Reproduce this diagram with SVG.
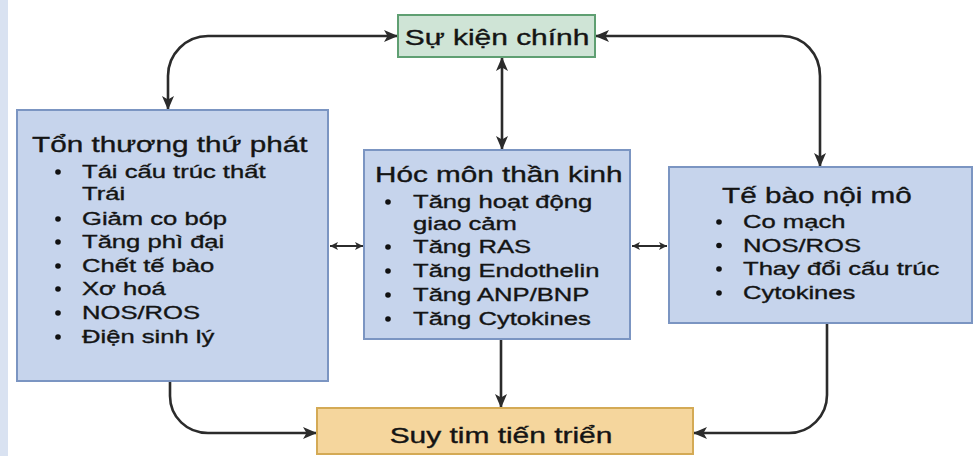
<svg xmlns="http://www.w3.org/2000/svg" width="974" height="456" viewBox="0 0 974 456">
  <style>
    .txt { font-family: "Liberation Sans", Arial, sans-serif; fill: #141414; stroke: #141414; stroke-width: 0.35px; }
    .head { font-size: 22px; }
    .item { font-size: 18.7px; }
    .blue { fill: #c6d4ec; stroke: #7b95c2; stroke-width: 2; }
    .green { fill: #cfe4d6; stroke: #5f9f72; stroke-width: 2; }
    .orange { fill: #f5d69d; stroke: #d4aa55; stroke-width: 2; }
    .dot { fill: #111; }
    .link { fill: none; stroke: #2b2b2b; stroke-width: 2.6; }
    .link-s { fill: none; stroke: #2b2b2b; stroke-width: 1.8; }
  </style>
  <defs>
    <marker id="arrow" markerUnits="userSpaceOnUse" markerWidth="14" markerHeight="12" refX="13" refY="6" orient="auto-start-reverse">
      <path d="M0,0 L14,6 L0,12 L3.5,6 z" fill="#2b2b2b"/>
    </marker>
    <marker id="arrow-s" markerUnits="userSpaceOnUse" markerWidth="8" markerHeight="8" refX="8" refY="4" orient="auto-start-reverse">
      <path d="M0,0 L8,4 L0,8 L2,4 z" fill="#2b2b2b"/>
    </marker>
  </defs>

  <!-- page margin strip -->
  <rect x="0" y="0" width="8" height="456" fill="#d9e2f1"/>
  <rect x="8" y="0" width="966" height="456" fill="#ffffff"/>

  <!-- connectors -->
  <g id="connectors">
    <path class="link" d="M397 36 H208 C186 36 168 54 168 76 V109" marker-start="url(#arrow)" marker-end="url(#arrow)"/>
    <path class="link" d="M596 36 H782 C804 36 820 54 820 76 V166" marker-start="url(#arrow)" marker-end="url(#arrow)"/>
    <path class="link" d="M502 58 V149" marker-start="url(#arrow)" marker-end="url(#arrow)"/>
    <path class="link-s" d="M330 246 H363" marker-start="url(#arrow-s)" marker-end="url(#arrow-s)"/>
    <path class="link-s" d="M632 246 H667" marker-start="url(#arrow-s)" marker-end="url(#arrow-s)"/>
    <path class="link" d="M501 340 V407" marker-end="url(#arrow)"/>
    <path class="link" d="M170 382 V396 C170 417 187 433 208 433 H316" marker-end="url(#arrow)"/>
    <path class="link" d="M827 324 V395 C827 416 810 433 789 433 H694" marker-end="url(#arrow)"/>
  </g>

  <!-- top event -->
  <g id="node-main-event">
    <rect class="green" x="398" y="15" width="197" height="42"/>
    <text class="txt head" text-anchor="middle" transform="translate(497 45) scale(1.36 1)">Sự kiện chính</text>
  </g>

  <!-- secondary damage -->
  <g id="node-secondary-damage">
    <rect class="blue" x="17" y="110" width="311" height="271"/>
    <text class="txt head" transform="translate(32 152) scale(1.35 1)">Tổn thương thứ phát</text>
    <circle class="dot" cx="58" cy="172" r="2.8"/>
    <text class="txt item" transform="translate(82 178) scale(1.37 1)">Tái cấu trúc thất</text>
    <text class="txt item" transform="translate(82 200) scale(1.37 1)">Trái</text>
    <circle class="dot" cx="58" cy="219" r="2.8"/>
    <text class="txt item" transform="translate(82 225) scale(1.37 1)">Giảm co bóp</text>
    <circle class="dot" cx="58" cy="242" r="2.8"/>
    <text class="txt item" transform="translate(82 248) scale(1.37 1)">Tăng phì đại</text>
    <circle class="dot" cx="58" cy="266" r="2.8"/>
    <text class="txt item" transform="translate(82 272) scale(1.37 1)">Chết tế bào</text>
    <circle class="dot" cx="58" cy="289" r="2.8"/>
    <text class="txt item" transform="translate(82 295) scale(1.37 1)">Xơ hoá</text>
    <circle class="dot" cx="58" cy="313" r="2.8"/>
    <text class="txt item" transform="translate(82 319) scale(1.37 1)">NOS/ROS</text>
    <circle class="dot" cx="58" cy="337" r="2.8"/>
    <text class="txt item" transform="translate(82 343) scale(1.37 1)">Điện sinh lý</text>
  </g>

  <!-- neurohormones -->
  <g id="node-neurohormones">
    <rect class="blue" x="364" y="150" width="266" height="189"/>
    <text class="txt head" transform="translate(375 182) scale(1.35 1)">Hóc môn thần kinh</text>
    <circle class="dot" cx="388" cy="202" r="2.8"/>
    <text class="txt item" transform="translate(413 208) scale(1.37 1)">Tăng hoạt động</text>
    <text class="txt item" transform="translate(413 230) scale(1.37 1)">giao cảm</text>
    <circle class="dot" cx="388" cy="247" r="2.8"/>
    <text class="txt item" transform="translate(413 253) scale(1.37 1)">Tăng RAS</text>
    <circle class="dot" cx="388" cy="271" r="2.8"/>
    <text class="txt item" transform="translate(413 277) scale(1.37 1)">Tăng Endothelin</text>
    <circle class="dot" cx="388" cy="295" r="2.8"/>
    <text class="txt item" transform="translate(413 301) scale(1.37 1)">Tăng ANP/BNP</text>
    <circle class="dot" cx="388" cy="319" r="2.8"/>
    <text class="txt item" transform="translate(413 325) scale(1.37 1)">Tăng Cytokines</text>
  </g>

  <!-- endothelial cells -->
  <g id="node-endothelium">
    <rect class="blue" x="669" y="167" width="303" height="156"/>
    <text class="txt head" transform="translate(722 203) scale(1.35 1)">Tế bào nội mô</text>
    <circle class="dot" cx="719" cy="222" r="2.8"/>
    <text class="txt item" transform="translate(743 228) scale(1.37 1)">Co mạch</text>
    <circle class="dot" cx="719" cy="245.5" r="2.8"/>
    <text class="txt item" transform="translate(743 251.5) scale(1.37 1)">NOS/ROS</text>
    <circle class="dot" cx="719" cy="269" r="2.8"/>
    <text class="txt item" transform="translate(743 275) scale(1.37 1)">Thay đổi cấu trúc</text>
    <circle class="dot" cx="719" cy="293" r="2.8"/>
    <text class="txt item" transform="translate(743 299) scale(1.37 1)">Cytokines</text>
  </g>

  <!-- progressive heart failure -->
  <g id="node-heart-failure">
    <rect class="orange" x="317" y="408" width="376" height="46"/>
    <text class="txt head" text-anchor="middle" transform="translate(501 443) scale(1.36 1)">Suy tim tiến triển</text>
  </g>
</svg>
